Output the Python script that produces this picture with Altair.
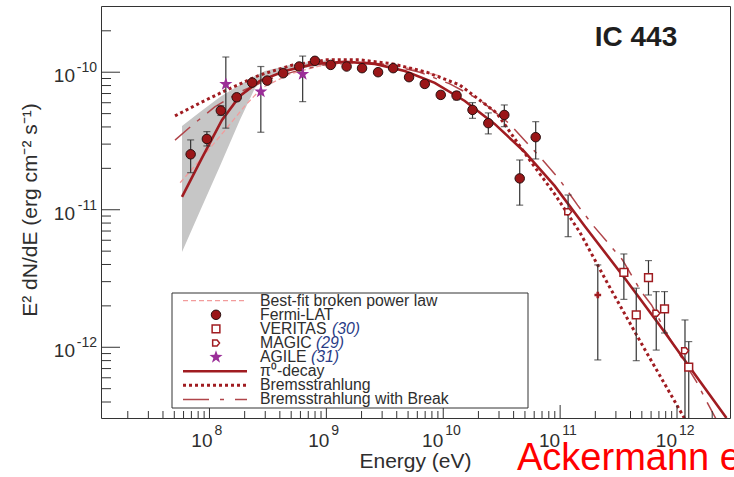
import altair as alt
import pandas as pd

# ---------------- data ----------------
fermi_E = [6.9e7, 9.5e7, 1.25e8, 1.71e8, 2.32e8, 3.12e8, 4.27e8, 5.86e8, 7.98e8, 1.09e9, 1.49e9, 2.02e9,
           2.77e9, 3.73e9, 5.10e9, 6.95e9, 9.52e9, 1.30e10, 1.78e10, 2.43e10, 3.33e10, 4.51e10, 6.18e10]
fermi_F = [2.53e-11, 3.27e-11, 5.26e-11, 6.57e-11, 8.40e-11, 8.69e-11, 9.83e-11, 1.10e-10, 1.21e-10, 1.13e-10,
           1.10e-10, 1.07e-10, 1.00e-10, 1.07e-10, 9.20e-11, 8.22e-11, 6.84e-11, 6.76e-11, 5.32e-11, 4.26e-11,
           4.89e-11, 1.69e-11, 3.37e-11]
fermi_lo = [1.86e-11, 2.91e-11, 4.85e-11, 6.20e-11, 8.0e-11, 8.3e-11, 9.5e-11, 1.06e-10, 1.17e-10, 1.09e-10,
            1.06e-10, 1.03e-10, 9.6e-11, 1.03e-10, 8.8e-11, 7.8e-11, 6.45e-11, 6.3e-11, 4.62e-11, 3.56e-11,
            4.02e-11, 1.08e-11, 2.34e-11]
fermi_hi = [3.22e-11, 3.70e-11, 5.70e-11, 6.95e-11, 8.8e-11, 9.1e-11, 1.02e-10, 1.14e-10, 1.25e-10, 1.17e-10,
            1.14e-10, 1.11e-10, 1.04e-10, 1.11e-10, 9.6e-11, 8.6e-11, 7.25e-11, 7.2e-11, 6.01e-11, 5.06e-11,
            5.78e-11, 2.30e-11, 4.37e-11]

agile_E = [1.38e8, 2.75e8, 6.27e8]
agile_F = [8.18e-11, 7.22e-11, 9.67e-11]
agile_lo = [3.92e-11, 3.66e-11, 6.11e-11]
agile_hi = [1.29e-10, 1.10e-10, 1.31e-10]

veritas_E = [3.51e11, 4.48e11, 5.70e11, 7.82e11, 1.26e12]
veritas_F = [3.51e-12, 1.72e-12, 3.21e-12, 1.90e-12, 7.16e-13]
veritas_lo = [2.23e-12, 7.99e-13, 2.40e-12, 1.27e-12, 2.0e-13]
veritas_hi = [4.77e-12, 2.69e-12, 4.27e-12, 2.54e-12, 1.10e-12]

magic_E = [1.17e11, 6.64e11, 1.17e12]
magic_F = [9.68e-12, 1.77e-12, 9.44e-13]
magic_lo = [6.37e-12, 9.54e-13, 2.0e-13]
magic_hi = [1.28e-11, 2.54e-12, 1.58e-12]

cross_E = [2.10e11]
cross_F = [2.40e-12]
cross_lo = [8.09e-13]
cross_hi = [3.97e-12]

pi0_E = [5.82e7, 8.63e7, 1.28e8, 1.82e8, 2.70e8, 4.42e8, 7.98e8, 1.44e9, 2.60e9, 4.69e9, 8.46e9, 1.53e10,
         2.75e10, 4.97e10, 8.98e10, 1.62e11, 3.56e11, 7.08e11, 1.28e12, 2.65e12]
pi0_F = [1.24e-11, 2.38e-11, 4.50e-11, 6.73e-11, 8.65e-11, 1.02e-10, 1.15e-10, 1.19e-10, 1.15e-10, 1.02e-10,
         8.36e-11, 6.18e-11, 4.21e-11, 2.63e-11, 1.49e-11, 7.62e-12, 3.19e-12, 1.45e-12, 7.19e-13, 3.06e-13]

brems_E = [5.07e7, 8.30e7, 1.41e8, 2.70e8, 5.18e8, 1.01e9, 1.93e9, 3.70e9, 7.22e9, 1.38e10, 2.86e10, 5.48e10,
           8.98e10, 1.47e11, 2.65e11, 5.27e11, 1.09e12, 1.18e12]
brems_F = [4.81e-11, 5.98e-11, 7.44e-11, 9.55e-11, 1.13e-10, 1.23e-10, 1.23e-10, 1.15e-10, 1.00e-10, 8.09e-11,
           5.06e-11, 2.30e-11, 1.30e-11, 6.89e-12, 2.74e-12, 9.72e-13, 3.33e-13, 2.96e-13]

brk_E = [5.07e7, 7.52e7, 1.11e8, 1.82e8, 3.29e8, 5.94e8, 1.07e9, 1.93e9, 3.49e9, 6.30e9, 1.14e10, 2.05e10,
         3.70e10, 7.08e10, 9.91e10, 1.41e11, 1.93e11, 2.75e11, 3.42e11, 4.97e11, 6.05e11, 8.30e11, 1.47e12,
         1.82e12, 2.18e12]
brk_F = [3.21e-11, 4.28e-11, 5.59e-11, 7.19e-11, 8.94e-11, 1.04e-10, 1.15e-10, 1.19e-10, 1.13e-10, 1.00e-10,
         8.22e-11, 6.30e-11, 4.21e-11, 2.30e-11, 1.65e-11, 1.08e-11, 7.62e-12, 5.36e-12, 4.31e-12, 2.52e-12,
         2.03e-12, 1.23e-12, 5.60e-13, 3.94e-13, 2.96e-13]

bpl_E = [5.61e7, 8.30e7, 1.30e8, 2.01e8, 2.81e8, 4.88e8, 8.79e8, 1.93e9, 4.25e9, 9.33e9]
bpl_F = [1.57e-11, 2.30e-11, 3.62e-11, 5.69e-11, 7.69e-11, 9.72e-11, 1.11e-10, 1.17e-10, 1.11e-10, 9.40e-11]

band_E = [5.82e7, 8.30e7, 1.23e8, 1.82e8, 2.45e8, 2.98e8, 5.38e8, 1.07e9]
band_hi = [4.06e-11, 5.14e-11, 6.61e-11, 8.09e-11, 9.40e-11, 1.02e-10, 1.15e-10, 1.23e-10]
band_lo = [4.93e-12, 9.80e-12, 2.08e-11, 4.50e-11, 7.69e-11, 9.09e-11, 1.06e-10, 1.13e-10]

x_major = [1e8, 1e9, 1e10, 1e11, 1e12]
x_exp = ['8', '9', '10', '11', '12']
x_minor = [m * 10 ** d for d in range(7, 13) for m in range(2, 10) if m * 10 ** d <= 2.5e12]
y_major = [1e-12, 1e-11, 1e-10]
y_exp = ['-12', '-11', '-10']
y_minor = [m * 10.0 ** d for d in (-13, -12, -11, -10) for m in range(2, 10)
           if 3.1e-13 < m * 10.0 ** d < 3.0e-10]

legend_labels = ['Best-fit broken power law', 'Fermi-LAT', 'VERITAS ', 'MAGIC ', 'AGILE ',
                 'π⁰-decay', 'Bremsstrahlung', 'Bremsstrahlung with Break']
legend_refs = ['(30)', '(29)', '(31)']

# ---------------- layout / style ----------------
W, H = 629, 412
X_DOM = [1.18e7, 2.84e12]
Y_DOM = [3.06e-13, 3.03e-10]
FONT = 'Liberation Sans'
DARK = '#A01C21'
TXT = '#2e2e2e'

xs = alt.Scale(type='log', domain=X_DOM, nice=False)
ys = alt.Scale(type='log', domain=Y_DOM, nice=False)


def X(f):
    return alt.X(f, type='quantitative', scale=xs, axis=None)


def Y(f):
    return alt.Y(f, type='quantitative', scale=ys, axis=None)


band_df = pd.DataFrame({'E': band_E, 'lo': band_lo, 'hi': band_hi})
band = alt.Chart(band_df).mark_area(color='#c6c6c6', opacity=1, clip=True).encode(
    x=X('E'), y=Y('lo'), y2='hi')


def curve(E, F, **kw):
    return alt.Chart(pd.DataFrame({'E': E, 'F': F})).mark_line(clip=True, **kw).encode(x=X('E'), y=Y('F'))


bpl = curve(bpl_E, bpl_F, color='#F29C9C', strokeWidth=1.3, strokeDash=[5, 3])
pi0 = curve(pi0_E, pi0_F, color=DARK, strokeWidth=2.6)
brems = curve(brems_E, brems_F, color=DARK, strokeWidth=3, strokeDash=[3, 3])
brk = curve(brk_E, brk_F, color='#B0454A', strokeWidth=1.5, strokeDash=[20, 9, 4, 9])

err_df = pd.DataFrame({
    'E': fermi_E + agile_E + veritas_E + magic_E + cross_E,
    'lo': fermi_lo + agile_lo + veritas_lo + magic_lo + cross_lo,
    'hi': fermi_hi + agile_hi + veritas_hi + magic_hi + cross_hi,
})
err = alt.Chart(err_df).mark_rule(color='#333333', strokeWidth=1.2, clip=True).encode(
    x=X('E'), y=Y('lo'), y2='hi')
cap_lo = alt.Chart(err_df).mark_tick(color='#333333', orient='horizontal', size=7, thickness=1.2,
                                     clip=True).encode(x=X('E'), y=Y('lo'))
cap_hi = alt.Chart(err_df).mark_tick(color='#333333', orient='horizontal', size=7, thickness=1.2,
                                     clip=True).encode(x=X('E'), y=Y('hi'))

STAR = ("M0,-1L0.235,-0.324L0.951,-0.309L0.38,0.124L0.588,0.809L0,0.4L-0.588,0.809"
        "L-0.38,0.124L-0.951,-0.309L-0.235,-0.324Z")
HOUSE = "M-0.9,-0.8L0.3,-0.8L0.95,0L0.3,0.8L-0.9,0.8Z"

fermi = alt.Chart(pd.DataFrame({'E': fermi_E, 'F': fermi_F})).mark_point(
    shape='circle', filled=True, fill='#9A1618', stroke='#2a1010', strokeWidth=1, size=90, opacity=1
).encode(x=X('E'), y=Y('F'))
agile = alt.Chart(pd.DataFrame({'E': agile_E, 'F': agile_F})).mark_point(
    shape=STAR, filled=True, fill='#9B2E98', strokeWidth=0, size=190, opacity=1
).encode(x=X('E'), y=Y('F'))
veritas = alt.Chart(pd.DataFrame({'E': veritas_E, 'F': veritas_F})).mark_point(
    shape='square', filled=True, fill='white', stroke=DARK, strokeWidth=1.5, size=60, opacity=1, clip=True
).encode(x=X('E'), y=Y('F'))
magic = alt.Chart(pd.DataFrame({'E': magic_E, 'F': magic_F})).mark_point(
    shape=HOUSE, filled=True, fill='white', stroke=DARK, strokeWidth=1.5, size=55, opacity=1, clip=True
).encode(x=X('E'), y=Y('F'))
cross = alt.Chart(pd.DataFrame({'E': cross_E, 'F': cross_F})).mark_point(
    shape='cross', filled=True, fill=DARK, strokeWidth=0, size=45, opacity=1
).encode(x=X('E'), y=Y('F'))

# manual ticks (inward)
xmaj = alt.Chart(pd.DataFrame({'v': x_major})).mark_rule(color='#333', strokeWidth=1).encode(
    x=X('v'), y=alt.value(H), y2=alt.value(H - 13))
xmin = alt.Chart(pd.DataFrame({'v': x_minor})).mark_rule(color='#333', strokeWidth=1).encode(
    x=X('v'), y=alt.value(H), y2=alt.value(H - 7))
ymaj = alt.Chart(pd.DataFrame({'v': y_major})).mark_rule(color='#333', strokeWidth=1).encode(
    y=Y('v'), x=alt.value(0), x2=alt.value(19))
ymin = alt.Chart(pd.DataFrame({'v': y_minor})).mark_rule(color='#333', strokeWidth=1).encode(
    y=Y('v'), x=alt.value(0), x2=alt.value(10))

# tick labels: "10" with a raised exponent
BASE_FS, EXP_FS = 19, 14
tick_layers = []
for ndig, dxb in ((1, 3), (2, 0)):
    sel = [(v, e) for v, e in zip(x_major, x_exp) if len(e) == ndig]
    df = pd.DataFrame({'v': [s[0] for s in sel], 'b': ['10'] * len(sel), 'e': [s[1] for s in sel]})
    tick_layers.append(alt.Chart(df).mark_text(
        font=FONT, fontSize=BASE_FS, color=TXT, align='right', baseline='alphabetic', dx=dxb).encode(
        x=X('v'), y=alt.value(H + 29), text='b:N'))
    tick_layers.append(alt.Chart(df).mark_text(
        font=FONT, fontSize=EXP_FS, color=TXT, align='left', baseline='alphabetic', dx=dxb + 2).encode(
        x=X('v'), y=alt.value(H + 17), text='e:N'))
ydf = pd.DataFrame({'v': y_major, 'b': ['10'] * len(y_major), 'e': y_exp})
tick_layers.append(alt.Chart(ydf).mark_text(
    font=FONT, fontSize=BASE_FS, color=TXT, align='right', baseline='alphabetic', dy=10).encode(
    y=Y('v'), x=alt.value(-26), text='b:N'))
tick_layers.append(alt.Chart(ydf).mark_text(
    font=FONT, fontSize=EXP_FS, color=TXT, align='right', baseline='alphabetic', dy=0).encode(
    y=Y('v'), x=alt.value(-4), text='e:N'))

# axis titles
xtitle = alt.Chart(pd.DataFrame({'t': ['Energy (eV)']})).mark_text(
    font=FONT, fontSize=21, color=TXT, align='center', baseline='alphabetic').encode(
    text='t:N', x=alt.value(W / 2), y=alt.value(H + 50))
ytitle = alt.Chart(pd.DataFrame({'t': ['E² dN/dE (erg cm⁻² s⁻¹)']})).mark_text(
    font=FONT, fontSize=21, color=TXT, align='center', baseline='middle', angle=270).encode(
    text='t:N', x=alt.value(-70), y=alt.value(204))

# annotations
title_ic = alt.Chart(pd.DataFrame({'t': ['IC 443']})).mark_text(
    font=FONT, fontSize=28, fontWeight='bold', color='#1e1e1e', align='center', baseline='middle').encode(
    text='t:N', x=alt.value(535), y=alt.value(32))
cite = alt.Chart(pd.DataFrame({'t': ['Ackermann et al. 2013']})).mark_text(
    font=FONT, fontSize=38, color='#ff0000', align='left', baseline='alphabetic').encode(
    text='t:N', x=alt.value(416), y=alt.value(464))

# legend
LX0, LX1, LY0, LY1 = 71, 427, 287, 402
rows = [294.7, 308.8, 322.9, 337.0, 351.1, 365.2, 379.3, 393.4]
dummy = pd.DataFrame({'a': [0]})
leg = [alt.Chart(dummy).mark_rect(fill='white', stroke='#333', strokeWidth=1).encode(
    x=alt.value(LX0), x2=alt.value(LX1), y=alt.value(LY0), y2=alt.value(LY1))]


def leg_line(y, **kw):
    return alt.Chart(dummy).mark_rule(**kw).encode(x=alt.value(82), x2=alt.value(146), y=alt.value(y))


def leg_sym(y, **kw):
    return alt.Chart(dummy).mark_point(opacity=1, **kw).encode(x=alt.value(115), y=alt.value(y))


leg += [
    leg_line(rows[0], color='#F29C9C', strokeWidth=1.3, strokeDash=[5, 3]),
    leg_sym(rows[1], shape='circle', filled=True, fill='#9A1618', stroke='#2a1010', strokeWidth=1, size=90),
    leg_sym(rows[2], shape='square', filled=True, fill='white', stroke=DARK, strokeWidth=1.5, size=60),
    leg_sym(rows[3], shape=HOUSE, filled=True, fill='white', stroke=DARK, strokeWidth=1.5, size=55),
    leg_sym(rows[4], shape=STAR, filled=True, fill='#9B2E98', strokeWidth=0, size=190),
    leg_line(rows[5], color=DARK, strokeWidth=2.6),
    leg_line(rows[6], color=DARK, strokeWidth=3, strokeDash=[3, 3]),
    leg_line(rows[7], color='#B0454A', strokeWidth=1.5, strokeDash=[26, 11, 4, 11]),
]
for lab, y in zip(legend_labels, rows):
    leg.append(alt.Chart(pd.DataFrame({'t': [lab]})).mark_text(
        font=FONT, fontSize=15.8, color=TXT, align='left', baseline='middle').encode(
        text='t:N', x=alt.value(159), y=alt.value(y)))
for ref, y, xx in zip(legend_refs, rows[2:5], [231, 215, 210]):
    leg.append(alt.Chart(pd.DataFrame({'t': [ref]})).mark_text(
        font=FONT, fontSize=15.8, fontStyle='italic', color='#2a3c86', align='left', baseline='middle').encode(
        text='t:N', x=alt.value(xx), y=alt.value(y)))

chart = alt.layer(
    band, bpl, brk, brems, pi0, err, cap_lo, cap_hi, veritas, magic, cross, fermi, agile,
    xmaj, xmin, ymaj, ymin, *tick_layers, xtitle, ytitle, title_ic, cite, *leg
).properties(
    width=W, height=H,
    autosize=alt.AutoSizeParams(type='none'),
    padding={'left': 101, 'top': 6, 'right': 4, 'bottom': 59},
).configure_view(stroke='#333', strokeWidth=1)

chart.save('out.html', embed_options={'renderer': 'svg', 'actions': False})
